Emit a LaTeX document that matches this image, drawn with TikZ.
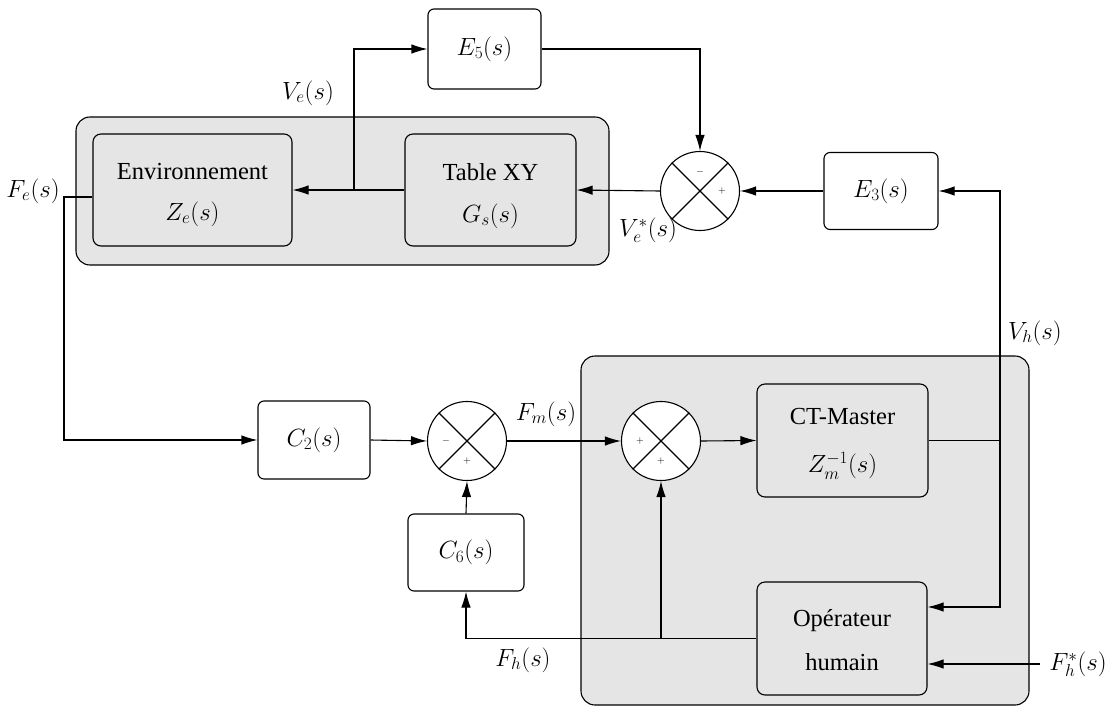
\documentclass[tikz,border=0pt]{standalone}
\usepackage[no-math]{fontspec}
\setmainfont{Liberation Serif}
\usetikzlibrary{arrows.meta,calc}
\begin{document}
\begin{tikzpicture}[x=1pt,y=-1pt,line width=1.1pt,
  font=\fontsize{23}{27}\selectfont,
  arr/.style={-{Latex[length=16pt,width=9.5pt]}},
  wbox/.style={draw,rounded corners=6pt,fill=white,inner sep=0pt},
  gbox/.style={draw,rounded corners=8pt,fill=gray!20,inner sep=0pt},
  grp/.style={draw,rounded corners=14pt,fill=gray!20},
  sumc/.style={draw,circle,fill=white,minimum size=79pt,inner sep=0pt},
  sgn/.style={font=\fontsize{10}{12}\selectfont,inner sep=0pt},
  txt/.style={inner sep=0pt,font=\fontsize{24.5}{28}\selectfont},
  lbl/.style={inner sep=0pt}]
\useasboundingbox (0,0) rectangle (1109,707);
% groups
\draw[grp] (76,117) rectangle (609,265);
\draw[grp] (581,356) rectangle (1029,705);
% blocks
\node[gbox,minimum width=199pt,minimum height=112pt] (env) at (192.5,190) {};
\node[txt] (envt) at (192.5,172) {Environnement};
\node[lbl] (envm) at (192.5,214) {$Z_e(s)$};
\node[gbox,minimum width=171pt,minimum height=112pt] (tab) at (490.5,190) {};
\node[txt] (tabt) at (490.5,172) {Table XY};
\node[lbl] (tabm) at (490.5,216) {$G_s(s)$};
\node[wbox,minimum width=113pt,minimum height=80pt] (E5) at (484.5,49) {$E_5(s)$};
\node[wbox,minimum width=114pt,minimum height=77pt] (E3) at (881,191) {$E_3(s)$};
\node[sumc] (s1) at (700,191) {};
\node[wbox,minimum width=112pt,minimum height=78pt] (C2) at (314,440) {$C_2(s)$};
\node[sumc] (s2) at (467,441) {};
\node[sumc] (s3) at (661,441) {};
\node[gbox,minimum width=171pt,minimum height=113pt] (CT) at (842.5,440.5) {};
\node[txt] (CTt) at (842.5,417) {CT-Master};
\node[lbl] (CTm) at (842.5,466) {$Z_m^{-1}(s)$};
\node[wbox,minimum width=116pt,minimum height=77pt] (C6) at (466,552.5) {$C_6(s)$};
\node[gbox,minimum width=170pt,minimum height=113pt] (Op) at (842,638.5) {};
\node[txt] (Opt) at (842,621) {Opérateur};
\node[txt] (Opm) at (842,662) {humain};
% crosses and signs
\foreach \s in {s1,s2,s3}{
  \draw (\s.north west) -- (\s.south east);
  \draw (\s.north east) -- (\s.south west);
}
\node[sgn] (s1a) at ($(s1)+(0,-19)$) {$-$};
\node[sgn] (s1b) at ($(s1)+(22,0)$) {$+$};
\node[sgn] (s2a) at ($(s2)+(-21,0)$) {$-$};
\node[sgn] (s2b) at ($(s2)+(0,20)$) {$+$};
\node[sgn] (s3a) at ($(s3)+(-21,0)$) {$+$};
\node[sgn] (s3b) at ($(s3)+(0,20)$) {$+$};
% coordinates
\coordinate (b1) at (354,190);
\coordinate (j1) at (1000,440.5);
\coordinate (fe) at (64,197);
\coordinate (j2) at (661,638.5);
\coordinate (fin) at (1040,664);
% connectors
\draw[arr] (tab.west) -- (env.east);
\draw[arr] (b1) |- (E5.west);
\draw[arr] (E5.east) -| (s1.north);
\draw[arr] (s1.west) -- (tab.east);
\draw[arr] (E3.west) -- (s1.east);
\draw (CT.east) -- (j1);
\draw[arr] (j1) |- (E3.east);
\draw[arr] (j1) |- ([yshift=31.5pt]Op.east);
\draw[arr] (fin) -- (fin -| Op.east);
\draw[arr] ([yshift=-7pt]env.west) -| (fe) |- (C2.west);
\draw[arr] (C2.east) -- (s2.west);
\draw[arr] (s2.east) -- (s3.west);
\draw[arr] (s3.east) -- (CT.west);
\draw[arr] (C6.north) -- (s2.south);
\draw[arr] (Op.west) -| (C6.south);
\draw[arr] (j2) -- (s3.south);
% labels
\node[lbl] (lFe) at (33,191) {$F_e(s)$};
\node[lbl] (lVe) at (308,93) {$V_e(s)$};
\node[lbl] (lVes) at (648,230) {$V_e^*(s)$};
\node[lbl] (lFm) at (546,414) {$F_m(s)$};
\node[lbl] (lVh) at (1035,333) {$V_h(s)$};
\node[lbl] (lFh) at (523,660) {$F_h(s)$};
\node[lbl] (lFhs) at (1078,664) {$F_h^*(s)$};
\end{tikzpicture}
\end{document}
